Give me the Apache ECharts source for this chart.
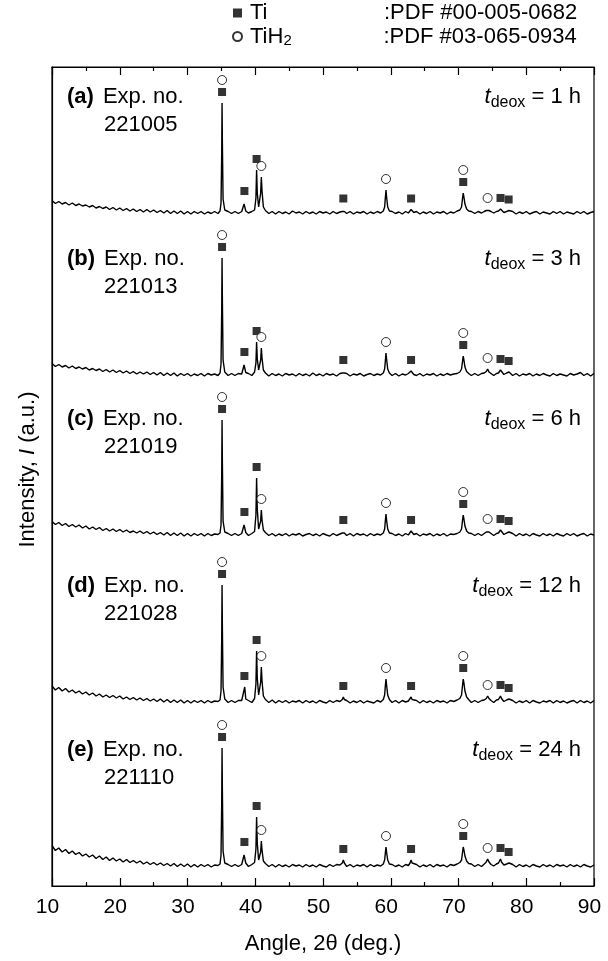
<!DOCTYPE html>
<html>
<head>
<meta charset="utf-8">
<script src="https://cdn.jsdelivr.net/npm/echarts@6/dist/echarts.min.js"></script>
<style>
  html, body { margin: 0; padding: 0; background: #fff; }
  #main { width: 608px; height: 961px; }
</style>
</head>
<body>
<div id="main"></div>
<script>
// 2theta grid shared by all patterns (denser around the reflections)
var angles = [
  10, 10.5, 11, 11.5, 12, 12.5, 13, 13.5, 14, 14.5, 15, 15.5, 16, 16.5, 17, 17.5, 18, 18.5, 19, 19.5,
  20, 20.5, 21, 21.5, 22, 22.5, 23, 23.5, 24, 24.5, 25, 25.5, 26, 26.5, 27, 27.5, 28, 28.5, 29, 29.5,
  30, 30.5, 31, 31.5, 32, 32.5, 33, 33.5, 34, 34.5,
  34.8, 34.95, 35.05, 35.1, 35.15, 35.25, 35.5,
  36, 36.5, 37, 37.5, 38,
  38.2, 38.35, 38.45, 38.6,
  39, 39.5, 39.9,
  40.1, 40.2, 40.3, 40.5, 40.6, 40.8, 40.9, 41, 41.2,
  41.5, 42, 42.5, 43, 43.5, 44, 44.5, 45, 45.5, 46, 46.5, 47, 47.5, 48, 48.5, 49, 49.5, 50, 50.5, 51, 51.5, 52, 52.5,
  52.85, 53, 53.15,
  53.5, 54, 54.5, 55, 55.5, 56, 56.5, 57, 57.5, 58, 58.5, 58.9,
  59.1, 59.2, 59.3, 59.4, 59.55, 59.8,
  60.2, 60.7, 61.2, 61.7, 62.2, 62.6,
  62.85, 63, 63.15, 63.4,
  63.8, 64.3, 64.8, 65.3, 65.8, 66.3, 66.8, 67.3, 67.8, 68.3, 68.8, 69.3, 69.8, 70.2,
  70.45, 70.6, 70.7, 70.8, 70.95, 71.2, 71.5,
  71.9, 72.4, 72.9, 73.4, 73.8,
  74.1, 74.3, 74.5,
  74.8, 75.2, 75.6, 75.9,
  76.05, 76.2, 76.35,
  76.7, 77.1,
  77.3, 77.45, 77.6,
  78, 78.5, 79, 79.5, 80, 80.5, 81, 81.5, 82, 82.5, 83, 83.5, 84, 84.5, 85, 85.5, 86, 86.5, 87, 87.5, 88, 88.5, 89, 89.5, 90
];

// intensities (a.u.), one array per deoxidation time
var int1h = [
  12.5, 9.5, 11.5, 9, 10.5, 8, 10, 7.5, 9, 7, 8, 6, 7.5, 5, 6.5, 4.5, 6, 3.5, 5.5, 3,
  5, 2.5, 4.5, 2, 4, 1.5, 3.5, 1, 3.5, 1, 3, 0.5, 2.5, 0, 2.5, -0.5, 2, -0.5, 2, -1,
  1.5, -1, 1.5, -0.5, 1.5, -1, 1, -0.5, 1.5, -0.5,
  2, 10, 60, 110, 70, 14, 3,
  1.5, -0.5, 1.5, -0.5, 1.5,
  2, 9, 11, 2,
  0, 1.5, 3,
  15, 43, 20, 6, 7, 20, 36, 22, 6,
  2.5, -0.5, 1.5, -1, 1.5, -0.5, 1, -1, 2, 0, 1, -1, 1.5, -0.5, 1, -1, 1.5, 0, 1, -1, 1.5, -0.5, 1,
  1.5, 3.5, 1.5,
  -0.5, 1.5, -1, 1, 0, 1.5, -1, 1, -0.5, 1.5, 0, 2,
  6, 15, 23, 15, 6, 2,
  1.5, -0.5, 1, -1, 1.5, 0,
  1.5, 3.5, 2, 0.5,
  1.5, -1, 1, -0.5, 1.5, -1, 1, 0, 1.5, -1, 1, 0, 2, 3,
  6, 15, 20, 16, 9, 4, 2,
  1.5, -0.5, 1.5, 0, 1.5,
  2.5, 4, 2.5,
  1.5, 0, 1.5, 2,
  3, 4, 2.5,
  0.5, 1.5,
  2, 2.5, 1.5,
  1.5, -1, 1, -0.5, 1.5, -1, 0.5, 1.5, -1, 1, 0, -1, 1.5, -0.5, 1.5, -1, 1, 0, -1, 1.5, -0.5, 1.5, -1, 0.5, 1.5
];
var int3h = [
  11.5, 8.5, 10.5, 8, 9.5, 7, 9, 6.5, 8, 6, 7.5, 5, 6.5, 4.5, 6, 3.5, 5.5, 3, 5, 2.5,
  4.5, 2, 4, 1.5, 3.5, 1, 3, 1, 3, 0.5, 2.5, 0, 2.5, -0.5, 2, -0.5, 2, -1, 1.5, -0.5,
  1.5, -1, 1, -0.5, 1.5, -1, 1.5, 0, 1, -0.5,
  2, 11, 65, 117, 75, 15, 3,
  -0.5, 1.5, -0.5, 1.5, 1,
  2.5, 10, 12, 2.5,
  1.5, -0.5, 3,
  12, 33, 16, 5, 6, 15, 27, 17, 5,
  2, -1, 1.5, -0.5, 1, -1, 1.5, 0, 1, -1, 1.5, -0.5, 1, -1, 2, -0.5, 1, -1, 1.5, 0, 1, -1, 1.5,
  2, 4, 2,
  1.5, -1, 1, 0, 1.5, -1, 0.5, 1.5, -0.5, 1, 0, 2,
  6, 14, 22, 15, 6, 2,
  -0.5, 1.5, -1, 1, 0, 1.5,
  2, 4, 2, 0.5,
  -0.5, 1.5, -1, 1, 0, 1.5, -1, 1, -0.5, 1.5, 0, 1, 1.5, 3,
  6, 14, 19, 15, 8, 3.5, 1.5,
  -0.5, 1.5, -0.5, 1.5, 2,
  3.5, 6, 3,
  1.5, -0.5, 1.5, 2,
  3.5, 5, 3,
  0.5, 2,
  2.5, 3, 1.5,
  -0.5, 1.5, -1, 1, 0, 1.5, -1, 1, -0.5, 1.5, 0, -1, 1.5, -0.5, 1, 0, -1, 1.5, 0, 1, 2.5, -0.5, 1.5, -1, 1.5
];
var int6h = [
  13.5, 10.5, 12.5, 9.5, 11.5, 8.5, 10.5, 8, 10, 7, 9, 6, 8, 5.5, 7.5, 4.5, 6.5, 4, 6, 3.5,
  5.5, 3, 5, 2.5, 4, 2, 4, 1.5, 3.5, 1, 3, 0.5, 2.5, 0, 2.5, -0.5, 2, -0.5, 2, -1,
  1.5, -1, 1.5, -0.5, 1.5, -1, 1.5, -0.5, 1, 0.5,
  2, 10, 62, 115, 72, 14, 3,
  1.5, -0.5, 1.5, -0.5, 1.5,
  2.5, 10, 12, 2.5,
  -0.5, 1.5, 3.5,
  20, 57, 26, 6, 6, 14, 25, 15, 5,
  2.5, -0.5, 1.5, -1, 1, -0.5, 1.5, -1, 1, 0, 1.5, -1, 0.5, 1.5, -0.5, 1, -1, 1.5, 0, -1, 1.5, -0.5, 1,
  2, 4, 2,
  -0.5, 1.5, -1, 1.5, 0, 1, -1, 1.5, -0.5, 1, 0, 2,
  6, 14, 21, 14, 6, 2,
  1.5, -0.5, 1, -1, 1.5, 0,
  2, 4, 2, 0.5,
  1.5, -1, 1, 0, 1.5, -1, 1, -0.5, 1.5, -1, 1, 0.5, 1.5, 3,
  6, 15, 20, 16, 9, 4, 2,
  1.5, -0.5, 1.5, -0.5, 1.5,
  3, 5, 3,
  1.5, -0.5, 1.5, 2,
  3.5, 5, 3,
  0.5, 2,
  2.5, 3, 1.5,
  1.5, -1, 1.5, -0.5, 1, -1, 1.5, 0, -1, 1.5, -0.5, 1, -1, 1.5, 0, -1, 1.5, -0.5, 1.5, -1, 0.5, 1.5, -1, 1, 0
];
var int12h = [
  16, 12, 14.5, 11, 13.5, 10, 12, 9, 11, 8, 10, 7, 9, 6, 8, 5, 7, 4.5, 6.5, 4,
  6, 3, 5, 2.5, 4.5, 2, 4, 1.5, 3.5, 1, 3, 0.5, 3, 0, 2.5, -0.5, 2, -0.5, 2, -1,
  1.5, -1, 1.5, -0.5, 1.5, -1, 1.5, -0.5, 1, 0.5,
  2, 11, 64, 117, 74, 15, 3,
  -0.5, 1.5, -0.5, 1.5, 1.5,
  3, 12, 15, 3,
  1.5, -0.5, 3.5,
  18, 51, 24, 7, 8, 20, 35, 21, 6,
  2.5, -0.5, 2, -1, 1.5, -0.5, 1.5, -1, 1, 0, 1.5, -1, 1.5, -0.5, 1, -1, 1.5, 0, -1, 1.5, -0.5, 1.5, 0.5,
  2.5, 5, 2.5,
  1.5, -1, 1, -0.5, 1.5, -1, 1, 0, -1, 1.5, 0, 2.5,
  7, 16, 23, 16, 7, 2.5,
  -0.5, 1.5, -1, 1.5, 0, 1,
  2.5, 5, 2.5, 1,
  1.5, -1, 1.5, -0.5, 1, -1, 1.5, 0, 1, -1, 1.5, 0.5, 2, 3.5,
  7, 17, 23, 19, 11, 5, 2.5,
  -0.5, 1.5, -0.5, 1.5, 2,
  3.5, 6, 3.5,
  1.5, -0.5, 2, 2.5,
  4, 6, 3.5,
  0.5, 2,
  2.5, 3, 1.5,
  1.5, -1, 1, -0.5, 1.5, -1, 1.5, 0, -1, 1, 0, 1.5, -1, 1.5, -0.5, 1, -1, 0.5, 1.5, -1, 1.5, -0.5, 1, -1, 1.5
];
var int24h = [
  20.5, 15.5, 18, 14, 16.5, 12.5, 15, 11.5, 13.5, 10, 12, 9, 11, 7.5, 10, 6.5, 9, 5.5, 8, 5,
  7, 4, 6.5, 3.5, 5.5, 3, 5, 2, 4, 1.5, 3.5, 1, 3, 0.5, 2.5, 0, 2.5, -0.5, 2, -0.5,
  2, -1, 1.5, -1, 1.5, -0.5, 1.5, -1, 1, 0.5,
  2, 11, 64, 118, 75, 15, 3,
  1.5, -0.5, 1.5, -0.5, 1.5,
  3, 11, 13, 3,
  -0.5, 1.5, 3.5,
  17, 49, 23, 6, 6, 14, 25, 16, 5,
  2.5, -0.5, 1.5, -1, 1.5, -0.5, 1, -1, 1.5, 0, 1, -1, 1.5, -0.5, 1, -1, 1.5, 0, -1, 1.5, -0.5, 1.5, 1,
  3, 6, 3,
  -0.5, 1.5, -1, 1, 0, 1.5, -1, 1.5, -0.5, 1, 0, 2,
  6, 13, 19, 13, 6, 2,
  1.5, -0.5, 1, -1, 1.5, 0.5,
  3, 6, 3, 1,
  1.5, -1, 1, -0.5, 1.5, -1, 1.5, 0, 1, -1, 1.5, 0.5, 2, 3.5,
  6, 14, 19, 16, 10, 5, 2.5,
  2, -0.5, 1.5, -0.5, 2,
  4, 7, 4,
  1.5, 0, 2, 3,
  5, 7, 4,
  1, 2,
  2.5, 3, 1.5,
  1.5, -1, 1.5, -0.5, 1, -1, 1.5, 0, -1, 1.5, -0.5, 1, -1, 1.5, 0, 1, -1, 1.5, -0.5, 1, -1, 1.5, 0, -1, 1
];

var patterns = [int1h, int3h, int6h, int12h, int24h];
var tags = ['(a)', '(b)', '(c)', '(d)', '(e)'];
var expNos = ['221005', '221013', '221019', '221028', '221110'];
var deoxHours = [1, 3, 6, 12, 24];
// vertical shift of each pattern in the stack
var stackOffset = [673, 511, 351, 184, 20];

// reference peak positions (2theta, deg.)
var tiPeaks = [35.1, 38.4, 40.2, 53.0, 63.0, 70.7, 76.2, 77.4];
var tih2Peaks = [35.1, 40.9, 59.3, 70.7, 74.3];

var FONT = 'Liberation Sans, Arial, sans-serif';

patterns.forEach(function (p, k) {
  if (p.length !== angles.length) throw new Error('pattern ' + k + ' has ' + p.length + ' points, expected ' + angles.length);
});

function peakTop(vals, at) {
  var m = -Infinity;
  for (var i = 0; i < angles.length; i++) {
    if (Math.abs(angles[i] - at) <= 0.2 && vals[i] > m) m = vals[i];
  }
  return m;
}

var series = [];
var tiMarks = [];
var tih2Marks = [];
patterns.forEach(function (vals, k) {
  var off = stackOffset[k];
  series.push({
    type: 'line',
    name: tags[k],
    data: angles.map(function (a, i) { return [a, vals[i] + off]; }),
    showSymbol: false,
    silent: true,
    lineStyle: { color: '#000', width: 1.4 },
    z: 2
  });
  tiPeaks.forEach(function (a) {
    tiMarks.push([a, peakTop(vals, a) + off + 11]);
  });
  tih2Peaks.forEach(function (a) {
    var lift = tiPeaks.indexOf(a) >= 0 ? 23 : 11;
    tih2Marks.push([a, peakTop(vals, a) + off + lift]);
  });
});

series.push({
  type: 'scatter', name: 'Ti', data: tiMarks,
  symbol: 'rect', symbolSize: 8,
  itemStyle: { color: '#000' }, z: 3
});
series.push({
  type: 'scatter', name: 'TiH2', data: tih2Marks,
  symbol: 'circle', symbolSize: 9,
  itemStyle: { color: '#fff', borderColor: '#000', borderWidth: 1 }, z: 3
});

var chart = echarts.init(document.getElementById('main'), null, { renderer: 'canvas' });

var xTicks = {
  axisLine: { show: true, lineStyle: { color: '#000', width: 1.2 } },
  axisTick: { show: true, inside: true, length: 8, lineStyle: { color: '#000', width: 1.2 } },
  minorTick: { show: true, splitNumber: 2, length: 4, lineStyle: { color: '#000', width: 1.2 } },
  splitLine: { show: false }
};

var option = {
  animation: false,
  backgroundColor: '#fff',
  textStyle: { fontFamily: FONT, color: '#000' },
  legend: {
    data: ['Ti', 'TiH2'],
    orient: 'vertical',
    left: 232,
    top: 2,
    padding: 0,
    itemWidth: 9,
    itemHeight: 9,
    itemGap: 1,
    selectedMode: false,
    textStyle: {
      fontFamily: FONT, fontSize: 22, color: '#000', lineHeight: 20,
      rich: {
        n1: { fontSize: 22, lineHeight: 20, width: 134, padding: [0, 0, 0, 3] },
        n2: { fontSize: 22, lineHeight: 20, padding: [0, 0, 0, 3] },
        s: { fontSize: 15, lineHeight: 12, width: 100, padding: [8, 0, 0, 0] },
        p: { fontSize: 22, lineHeight: 20 }
      }
    },
    formatter: function (name) {
      return name === 'Ti'
        ? '{n1|Ti}{p|:PDF #00-005-0682}'
        : '{n2|TiH}{s|2}{p|:PDF #03-065-0934}';
    }
  },
  grid: {
    left: 52, right: 14, top: 67, bottom: 75,
    show: true, borderColor: '#000', borderWidth: 1.2
  },
  xAxis: [
    Object.assign({
      type: 'value', min: 10, max: 90, interval: 10, position: 'bottom',
      name: 'Angle, 2\u03b8 (deg.)', nameLocation: 'middle', nameGap: 47,
      nameTextStyle: { fontFamily: FONT, fontSize: 22, color: '#000' },
      axisLabel: { fontFamily: FONT, fontSize: 21, color: '#000', margin: 11, padding: [0, 9, 0, 0] }
    }, xTicks),
    Object.assign({
      type: 'value', min: 10, max: 90, interval: 10, position: 'top',
      axisLabel: { show: false }
    }, xTicks)
  ],
  yAxis: {
    type: 'value', min: 0, max: 819,
    name: 'Intensity, {i|I} (a.u.)', nameLocation: 'middle', nameGap: 13, nameRotate: 90,
    nameTextStyle: {
      fontFamily: FONT, fontSize: 22, color: '#000', padding: [0, 0, 0, 14],
      rich: { i: { fontStyle: 'italic', fontSize: 22 } }
    },
    axisLine: { show: true, lineStyle: { color: '#000', width: 1.2 } },
    axisTick: { show: false },
    axisLabel: { show: false },
    splitLine: { show: false }
  },
  series: series
};

chart.setOption(option);

// panel captions, placed relative to each pattern's baseline
var gfx = [];
stackOffset.forEach(function (off, k) {
  var pl = chart.convertToPixel({ gridIndex: 0 }, [10, off]);
  var pr = chart.convertToPixel({ gridIndex: 0 }, [90, off]);
  gfx.push({
    type: 'text', x: pl[0] + 15, y: pl[1] - 116,
    style: {
      text: '{b|' + tags[k] + '}{g|}Exp. no.',
      font: '22px ' + FONT, fill: '#000', verticalAlign: 'middle',
      rich: { b: { fontWeight: 'bold', fontSize: 22 }, g: { width: 9 } }
    }
  });
  gfx.push({
    type: 'text', x: pl[0] + 52, y: pl[1] - 88,
    style: { text: expNos[k], font: '22px ' + FONT, fill: '#000', verticalAlign: 'middle' }
  });
  gfx.push({
    type: 'text', x: pr[0] - 13, y: pr[1] - 116,
    style: {
      text: '{t|t}{s|deox}{n| = ' + deoxHours[k] + ' h}',
      font: '22px ' + FONT, fill: '#000', align: 'right', verticalAlign: 'middle',
      rich: {
        t: { fontStyle: 'italic', fontSize: 22 },
        s: { fontSize: 16, padding: [11, 0, 0, 0] },
        n: { fontSize: 22 }
      }
    }
  });
});
chart.setOption({ graphic: gfx });
</script>
</body>
</html>
